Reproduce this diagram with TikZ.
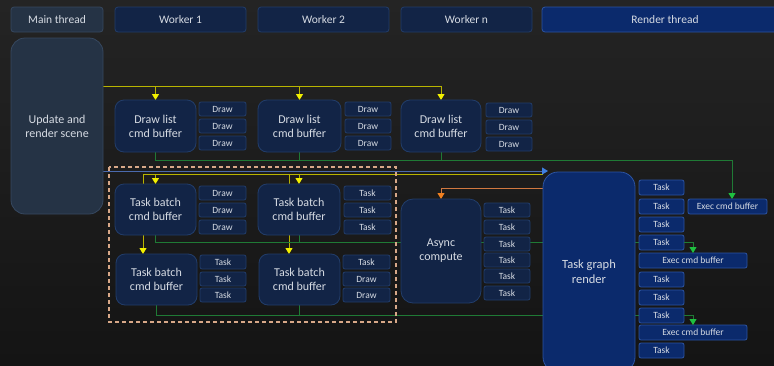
\documentclass[tikz,border=0pt]{standalone}
\usepackage{fontspec}
\setmainfont{Carlito}
\usetikzlibrary{arrows.meta,calc}
\definecolor{bgtop}{HTML}{242424}
\definecolor{bgbot}{HTML}{141414}
\definecolor{navy}{HTML}{122446}
\definecolor{navyb}{HTML}{223D6A}
\definecolor{slate}{HTML}{253345}
\definecolor{slateb}{HTML}{36485F}
\definecolor{rblue}{HTML}{0B2A6C}
\definecolor{rblueb}{HTML}{2C54A2}
\definecolor{txt}{HTML}{D6DBE3}
\definecolor{yline}{HTML}{B8B400}
\definecolor{ytip}{HTML}{F2F000}
\definecolor{gline}{HTML}{1F7A35}
\definecolor{gtip}{HTML}{1FC040}
\definecolor{bline}{HTML}{4A6AAE}
\definecolor{btip}{HTML}{3F7FE0}
\definecolor{oline}{HTML}{D07840}
\definecolor{otip}{HTML}{F08020}
\definecolor{dashc}{HTML}{D8A888}
\pgfdeclarelayer{back}
\pgfdeclarelayer{bg}
\pgfsetlayers{back,bg,main}
\tikzset{
  base/.style={anchor=north west, outer sep=0pt, inner sep=1pt, text=txt, align=center, line width=0.8pt},
  hdr/.style={base, rounded corners=3pt, fill=navy, draw=navyb, minimum height=25pt, font=\fontsize{11.5}{13}\selectfont},
  mhdr/.style={hdr, fill=slate, draw=slateb},
  rhdr/.style={hdr, fill=rblue, draw=rblueb},
  bigbox/.style={base, rounded corners=9pt, fill=navy, draw=navyb, font=\fontsize{12}{14}\selectfont},
  small/.style={base, rounded corners=2pt, fill=navy, draw=navyb, minimum height=14pt, font=\fontsize{9.5}{10}\selectfont},
  rsmall/.style={small, fill=rblue, draw=rblueb, minimum height=15pt},
  yl/.style={draw=yline, line width=0.9pt},
  yla/.style={yl, -{Triangle[width=7pt,length=6pt,color=ytip]}},
  gr/.style={draw=gline, line width=0.9pt},
  gra/.style={gr, -{Triangle[width=7pt,length=6pt,color=gtip]}},
  bla/.style={draw=bline, line width=0.9pt, -{Triangle[width=7pt,length=6pt,color=btip]}},
  ora/.style={draw=oline, line width=0.9pt, -{Triangle[width=7pt,length=6pt,color=otip]}},
  grp/.style={draw=dashc, line width=1.2pt, dash pattern=on 4pt off 3pt},
}
\begin{document}
\begin{tikzpicture}[x=1pt,y=-1pt]
\path[use as bounding box] (0,0) rectangle (774,365);
\clip (0,0) rectangle (774,365);
\begin{pgfonlayer}{back}
\shade[top color=bgtop, bottom color=bgbot] (0,0) rectangle (774,365);
\end{pgfonlayer}

% headers
\node[mhdr, minimum width=92pt] (hmain) at (11,7) {Main thread};
\node[hdr, minimum width=131pt] (hw1) at (115,7) {Worker 1};
\node[hdr, minimum width=131pt] (hw2) at (258,7) {Worker 2};
\node[hdr, minimum width=131pt] (hwn) at (401,7) {Worker n};
\node[rhdr, minimum width=246pt] (hrt) at (542,7) {Render thread};

% main
\node[bigbox, fill=slate, draw=slateb, rounded corners=14pt, minimum width=92pt, minimum height=176pt] (main) at (11,38) {Update and\\render scene};

% draw lists
\node[bigbox, minimum width=81pt, minimum height=52pt] (dl1) at (115,100) {Draw list\\cmd buffer};
\node[bigbox, minimum width=83pt, minimum height=52pt] (dl2) at (258,100) {Draw list\\cmd buffer};
\node[bigbox, minimum width=80pt, minimum height=52pt] (dln) at (401,100) {Draw list\\cmd buffer};
\node[small, minimum width=47pt] (d11) at (199,102) {Draw};
\node[small, minimum width=47pt] (d12) at (199,119) {Draw};
\node[small, minimum width=47pt] (d13) at (199,136) {Draw};
\node[small, minimum width=46pt] (d21) at (345,102) {Draw};
\node[small, minimum width=46pt] (d22) at (345,119) {Draw};
\node[small, minimum width=46pt] (d23) at (345,136) {Draw};
\node[small, minimum width=46pt] (dn1) at (486,103) {Draw};
\node[small, minimum width=46pt] (dn2) at (486,120) {Draw};
\node[small, minimum width=46pt] (dn3) at (486,137) {Draw};

% task batches
\node[bigbox, minimum width=81pt, minimum height=51pt] (tb11) at (115,184) {Task batch\\cmd buffer};
\node[bigbox, minimum width=82pt, minimum height=51pt] (tb12) at (258,184) {Task batch\\cmd buffer};
\node[bigbox, minimum width=81pt, minimum height=51pt] (tb21) at (116,254) {Task batch\\cmd buffer};
\node[bigbox, minimum width=81pt, minimum height=51pt] (tb22) at (259,254) {Task batch\\cmd buffer};
\node[small, minimum width=47pt] (a11) at (199,186) {Draw};
\node[small, minimum width=47pt] (a12) at (199,203) {Draw};
\node[small, minimum width=47pt] (a13) at (199,220) {Draw};
\node[small, minimum width=47pt] (b11) at (344,186) {Task};
\node[small, minimum width=47pt] (b12) at (344,203) {Task};
\node[small, minimum width=47pt] (b13) at (344,220) {Task};
\node[small, minimum width=46pt] (c11) at (200,255) {Task};
\node[small, minimum width=46pt] (c12) at (200,272) {Task};
\node[small, minimum width=46pt] (c13) at (200,288) {Task};
\node[small, minimum width=47pt] (e11) at (343,255) {Task};
\node[small, minimum width=47pt] (e12) at (343,272) {Draw};
\node[small, minimum width=47pt] (e13) at (343,288) {Draw};

% dashed group
\draw[grp] (109,167) rectangle (396,322);

% async compute
\node[bigbox, rounded corners=12pt, minimum width=80pt, minimum height=104pt] (asy) at (401,199) {Async\\compute};
\node[small, minimum width=46pt] (s1) at (484,203) {Task};
\node[small, minimum width=46pt] (s2) at (484,220) {Task};
\node[small, minimum width=46pt] (s3) at (484,237) {Task};
\node[small, minimum width=46pt] (s4) at (484,253) {Task};
\node[small, minimum width=46pt] (s5) at (484,269) {Task};
\node[small, minimum width=46pt] (s6) at (484,286) {Task};

% task graph render
\node[bigbox, fill=rblue, draw=rblueb, rounded corners=15pt, minimum width=92pt, minimum height=200pt, font=\fontsize{12.5}{15}\selectfont] (tgr) at (543,172) {Task graph\\render};
\node[rsmall, minimum width=45pt] (t1) at (639,180) {Task};
\node[rsmall, minimum width=45pt] (t2) at (639,199) {Task};
\node[rsmall, minimum width=45pt] (t3) at (639,217) {Task};
\node[rsmall, minimum width=45pt] (t4) at (639,235) {Task};
\node[rsmall, minimum width=108pt] (ex2) at (639,253) {Exec cmd buffer};
\node[rsmall, minimum width=45pt] (t5) at (639,272) {Task};
\node[rsmall, minimum width=45pt] (t6) at (639,290) {Task};
\node[rsmall, minimum width=45pt] (t7) at (639,308) {Task};
\node[rsmall, minimum width=108pt] (ex3) at (639,325) {Exec cmd buffer};
\node[rsmall, minimum width=45pt] (t8) at (639,343) {Task};
\node[rsmall, minimum width=79pt] (ex1) at (688,199) {Exec cmd buffer};

% level coordinates
\coordinate (ya) at (0,86);
\coordinate (yb) at (0,174);
\coordinate (bl) at (0,171);
\coordinate (blend) at (548,171);
\coordinate (ga) at (0,160);
\coordinate (oa) at (0,188);

\begin{pgfonlayer}{bg}
% yellow from main to draw lists
\draw[yla] (main.east|-ya) -| (dln.north);
\draw[yla] (dl1.north|-ya) -- (dl1.north);
\draw[yla] (dl2.north|-ya) -- (dl2.north);
% yellow from render to task batches
\draw[yl] (tgr.west|-yb) -- ([xshift=27pt]tb21.north west|-yb);
\draw[yla] ([xshift=27pt]tb21.north west|-yb) -- ([xshift=27pt]tb21.north west);
\draw[yla] ([xshift=30pt]tb22.north west|-yb) -- ([xshift=30pt]tb22.north west);
\draw[yla] (tb11.north|-yb) -- (tb11.north);
\draw[yla] (tb12.north|-yb) -- (tb12.north);
% blue
\draw[bla] (main.east|-bl) -- (blend);
% green from draw lists
\draw[gra] (dl1.south) -- (dl1.south|-ga) -| ([xshift=44pt]ex1.north west);
\draw[gr] (dl2.south) -- (dl2.south|-ga);
\draw[gr] (dln.south) -- (dln.south|-ga);
% green from task batches
\draw[gr] (tb11.south) |- (t4.west);
\draw[gr] (tb12.south) -- (tb12.south|-t4.west);
\draw[gr] (tb21.south) |- (t7.west);
\draw[gr] (tb22.south) -- (tb22.south|-t7.west);
% orange
\draw[ora] (tgr.west|-oa) -| (asy.north);
\end{pgfonlayer}
% green to exec
\draw[gra] (t4.east) -| ([xshift=54pt]ex2.north west);
\draw[gra] (t7.east) -| ([xshift=54pt]ex3.north west);
\end{tikzpicture}
\end{document}
